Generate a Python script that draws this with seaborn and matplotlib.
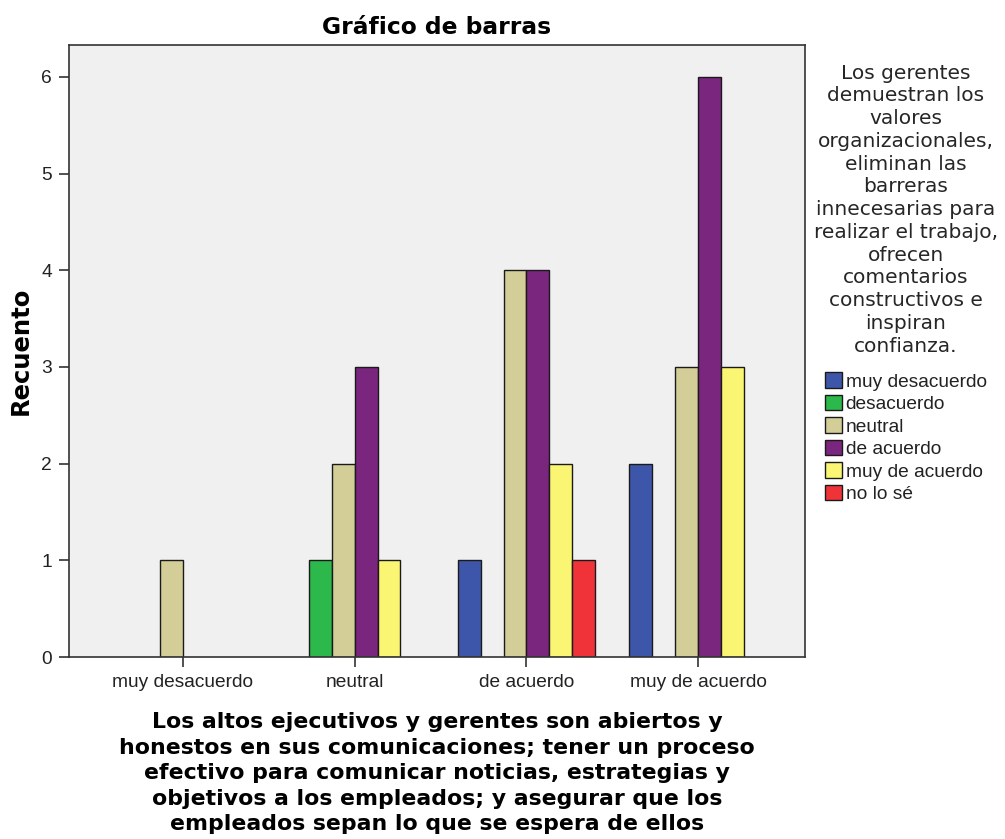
import matplotlib
matplotlib.use("Agg")
import matplotlib.pyplot as plt
import seaborn as sns
import pandas as pd

categories = ["muy desacuerdo", "neutral", "de acuerdo", "muy de acuerdo"]
hue_levels = ["muy desacuerdo", "desacuerdo", "neutral", "de acuerdo", "muy de acuerdo", "no lo sé"]
hue_colors = ["#3D56A9", "#2DB84B", "#D3CE98", "#7A257E", "#FAF572", "#EF3339"]

# counts per x category, in hue_levels order (None = no bar)
counts_muy_desacuerdo = [None, None, 1, None, None, None]
counts_neutral = [None, 1, 2, 3, 1, None]
counts_de_acuerdo = [1, None, 4, 4, 2, 1]
counts_muy_de_acuerdo = [2, None, 3, 6, 3, None]

title = "Gráfico de barras"
ylabel = "Recuento"
xlabel = ("Los altos ejecutivos y gerentes son abiertos y\n"
          "honestos en sus comunicaciones; tener un proceso\n"
          "efectivo para comunicar noticias, estrategias y\n"
          "objetivos a los empleados; y asegurar que los\n"
          "empleados sepan lo que se espera de ellos")
legend_title = ("Los gerentes\ndemuestran los\nvalores\norganizacionales,\neliminan las\nbarreras\n"
                "innecesarias para\nrealizar el trabajo,\nofrecen\ncomentarios\nconstructivos e\n"
                "inspiran\nconfianza.")

rows = []
for cat, vals in zip(categories, [counts_muy_desacuerdo, counts_neutral, counts_de_acuerdo, counts_muy_de_acuerdo]):
    for lev, v in zip(hue_levels, vals):
        if v is not None:
            rows.append({"x": cat, "hue": lev, "count": v})
df = pd.DataFrame(rows)

sns.set_theme(style="white")
plt.rcParams["font.family"] = ["Liberation Sans", "DejaVu Sans"]

fig = plt.figure(figsize=(10.05, 8.39), dpi=100)
ax = fig.add_axes([69/1005, 1-657/839, (805-69)/1005, (657-45)/839])
ax.set_facecolor("#F0F0F0")

sns.barplot(data=df, x="x", y="count", hue="hue", order=categories, hue_order=hue_levels,
            palette=dict(zip(hue_levels, hue_colors)), width=0.8, dodge=True,
            edgecolor="#1a1a1a", linewidth=1.0, saturation=1, ax=ax, legend=True)

ax.set_xlim(-0.663, 3.622)
ax.set_ylim(0, 6.33)
ax.set_yticks(range(0, 7))
for s in ax.spines.values():
    s.set_color("#333333")
    s.set_linewidth(1.2)
ax.tick_params(axis="both", direction="out", length=7.5, width=1.2, color="#333333",
               labelsize=13.8, labelcolor="#222222", pad=5, left=True, bottom=True)

bold = dict(family="DejaVu Sans", fontweight="bold", color="black")
ax.set_title(title, fontsize=16.8, pad=8, **bold)
ax.set_ylabel(ylabel, fontsize=17.5, labelpad=6, **bold)
ax.set_xlabel(xlabel, fontsize=15.8, labelpad=15, linespacing=1.34, **bold)

handles, labels = ax.get_legend_handles_labels()
ax.get_legend().remove()
leg = fig.legend(handles, labels, title=legend_title, loc="upper center",
                 bbox_to_anchor=(906/1005, 1-54/839), frameon=False, fontsize=13.8,
                 handlelength=0.85, handleheight=0.85, handletextpad=0.2,
                 labelspacing=0.22, borderpad=0)
tt = leg.get_title()
tt.set_family("DejaVu Sans")
tt.set_fontsize(14.5)
tt.set_multialignment("center")
tt.set_linespacing(1.25)
leg._legend_box.sep = 12
for t in leg.get_texts():
    t.set_color("#222222")

fig.savefig("out.png", dpi=100, facecolor="white")
